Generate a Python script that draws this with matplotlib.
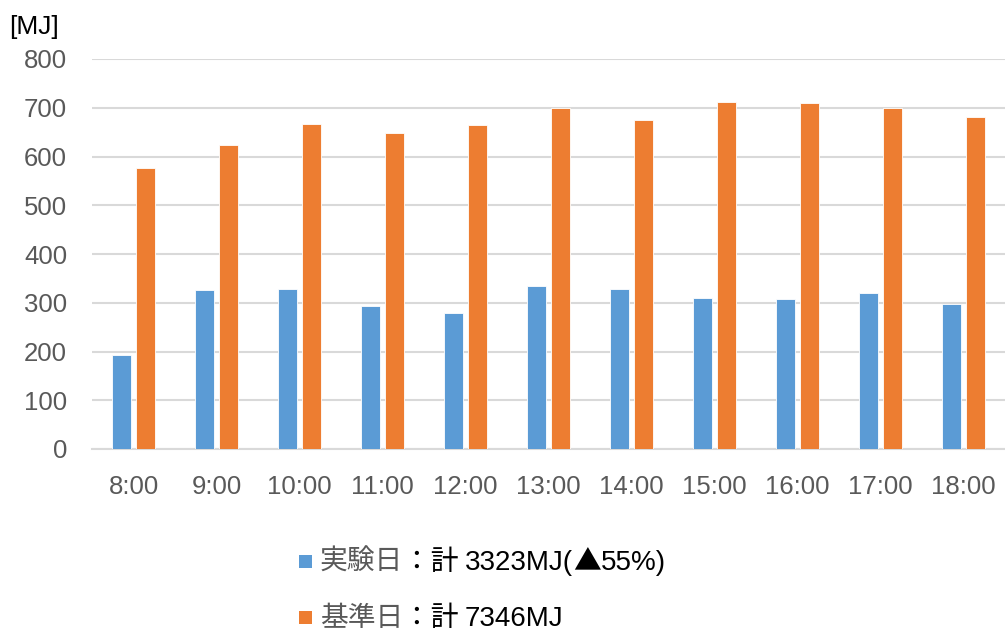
import matplotlib
matplotlib.use("Agg")
import matplotlib.pyplot as plt
from matplotlib.patches import Rectangle
import numpy as np

plt.rcParams['font.family'] = ['Liberation Sans', 'Noto Sans CJK JP', 'DejaVu Sans']

categories = ["8:00", "9:00", "10:00", "11:00", "12:00", "13:00", "14:00", "15:00", "16:00", "17:00", "18:00"]
experiment = [193, 327, 329, 294, 278, 335, 329, 309, 307, 319, 298]
baseline = [576, 623, 667, 649, 665, 700, 675, 712, 710, 700, 681]
yticks = [0, 100, 200, 300, 400, 500, 600, 700, 800]
legend_pieces = [
    [("実験日", "#595959", "cjk"), ("：計 ", "#000000", "cjk"), ("3323MJ(", "#000000", "lat"),
     ("▲", "#000000", "cjk"), ("55%)", "#000000", "lat")],
    [("基準日", "#595959", "cjk"), ("：計 ", "#000000", "cjk"), ("7346MJ", "#000000", "lat")],
]
blue = "#5b9bd5"
orange = "#ed7d31"

W, H = 1005, 632
fig = plt.figure(figsize=(W / 100, H / 100), dpi=100)
ax = fig.add_axes([92 / W, 1 - 449 / H, (1005 - 92) / W, (449 - 59) / H])

x = np.arange(len(categories))
bw = 0.228
off = 0.142
ax.bar(x - off, experiment, bw, color=blue, edgecolor="white", linewidth=0.6, zorder=3)
ax.bar(x + off, baseline, bw, color=orange, edgecolor="white", linewidth=0.6, zorder=3)

ax.set_xlim(-0.5, len(categories) - 0.5)
ax.set_ylim(0, 800)
ax.set_yticks(yticks)
ax.set_yticklabels([str(v) for v in yticks])
ax.set_xticks(x)
ax.set_xticklabels(categories)
ax.grid(axis="y", color="#d9d9d9", linewidth=1.5, zorder=0)
for s in ["top", "right", "left"]:
    ax.spines[s].set_visible(False)
ax.spines["bottom"].set_color("#d9d9d9")
ax.spines["bottom"].set_linewidth(1.5)
ax.tick_params(axis="both", length=0, labelsize=18.5, labelcolor="#595959")
ax.tick_params(axis="y", pad=18)
ax.tick_params(axis="x", pad=19)

fig.text(9 / W, 1 - 27 / H, "[MJ]", fontsize=19, color="#000000", va="center", ha="left")

# manual legend
rows = [561, 617]
colors = [blue, orange]
fams = {"cjk": ["Noto Sans CJK JP", "DejaVu Sans"], "lat": ["Liberation Sans", "Noto Sans CJK JP"]}
fig.canvas.draw()
renderer = fig.canvas.get_renderer()
for yc, c, pieces in zip(rows, colors, legend_pieces):
    fig.patches.append(Rectangle((299 / W, 1 - (yc + 6.5) / H), 13 / W, 13 / H,
                                 transform=fig.transFigure, facecolor=c, edgecolor="none"))
    xpos = 320
    for txt, col, fk in pieces:
        t = fig.text(xpos / W, 1 - (yc + 9) / H, txt, fontsize=20, color=col,
                     va="baseline", ha="left", family=fams[fk])
        bb = t.get_window_extent(renderer)
        xpos = bb.x1

fig.savefig("out.png", dpi=100)
